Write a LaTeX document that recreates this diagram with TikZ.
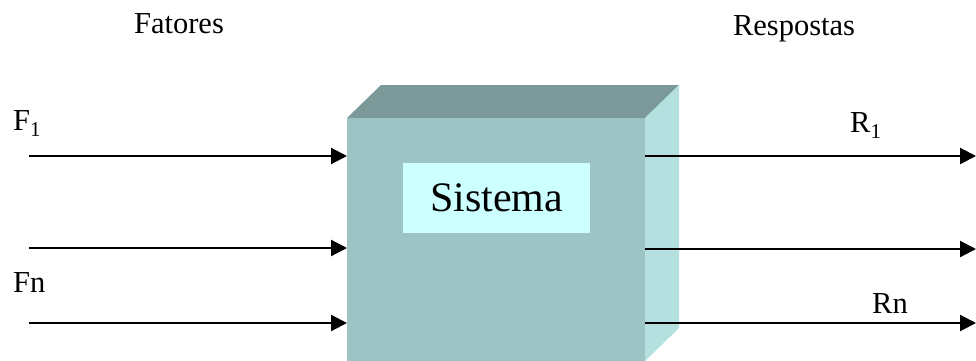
\documentclass[tikz,border=0pt]{standalone}
\usepackage{fontspec}
\setmainfont{Liberation Serif}
\usetikzlibrary{arrows.meta}
\definecolor{frontface}{HTML}{9CC4C4}
\definecolor{topface}{HTML}{7A9998}
\definecolor{sideface}{HTML}{B4E0E0}
\definecolor{labelbox}{HTML}{CCFFFF}
\tikzset{
  lbl/.style={inner sep=0pt, font=\fontsize{30.5}{32}\selectfont},
  flow/.style={line width=2.2pt, -{Triangle[length=16pt,width=16pt]}},
}
\newcommand{\sub}[1]{\raisebox{-0.2em}{\fontsize{21}{22}\selectfont #1}}
\begin{document}
\begin{tikzpicture}[x=1pt,y=-1pt]
\useasboundingbox (0,0) rectangle (976,360);
% cube: top and side faces
\fill[topface] (347,118) -- (381,85) -- (679,85) -- (645,118) -- cycle;
\fill[sideface] (645,118) -- (679,85) -- (679,328) -- (645,361) -- cycle;
% front face
\node[fill=frontface, inner sep=0pt, minimum width=298pt, minimum height=243pt, anchor=north west] (sys) at (347,118) {};
\node[fill=labelbox, inner sep=0pt, minimum width=187pt, minimum height=70pt, font=\fontsize{42}{44}\selectfont] (lab) at (496.5,198) {Sistema};
% headings
\node[lbl, anchor=base] (fat) at (179,33) {Fatores};
\node[lbl, anchor=base] (resp) at (794,35) {Respostas};
\node[lbl, anchor=base west] (f1) at (13,130) {F\sub{1}};
\node[lbl, anchor=base west] (fn) at (13,292) {Fn};
\node[lbl, anchor=base west] (r1) at (850,132) {R\sub{1}};
\node[lbl, anchor=base west] (rn) at (872,313) {Rn};
% free ends of the flows
\coordinate (a1) at (29,156);
\coordinate (a2) at (29,248);
\coordinate (a3) at (29,323);
\coordinate (b1) at (976,156);
\coordinate (b2) at (976,249);
\coordinate (b3) at (976,323);
\draw[flow] (a1) -- (a1 -| sys.west);
\draw[flow] (a2) -- (a2 -| sys.west);
\draw[flow] (a3) -- (a3 -| sys.west);
\draw[flow] (b1 -| sys.east) -- (b1);
\draw[flow] (b2 -| sys.east) -- (b2);
\draw[flow] (b3 -| sys.east) -- (b3);
\end{tikzpicture}
\end{document}
